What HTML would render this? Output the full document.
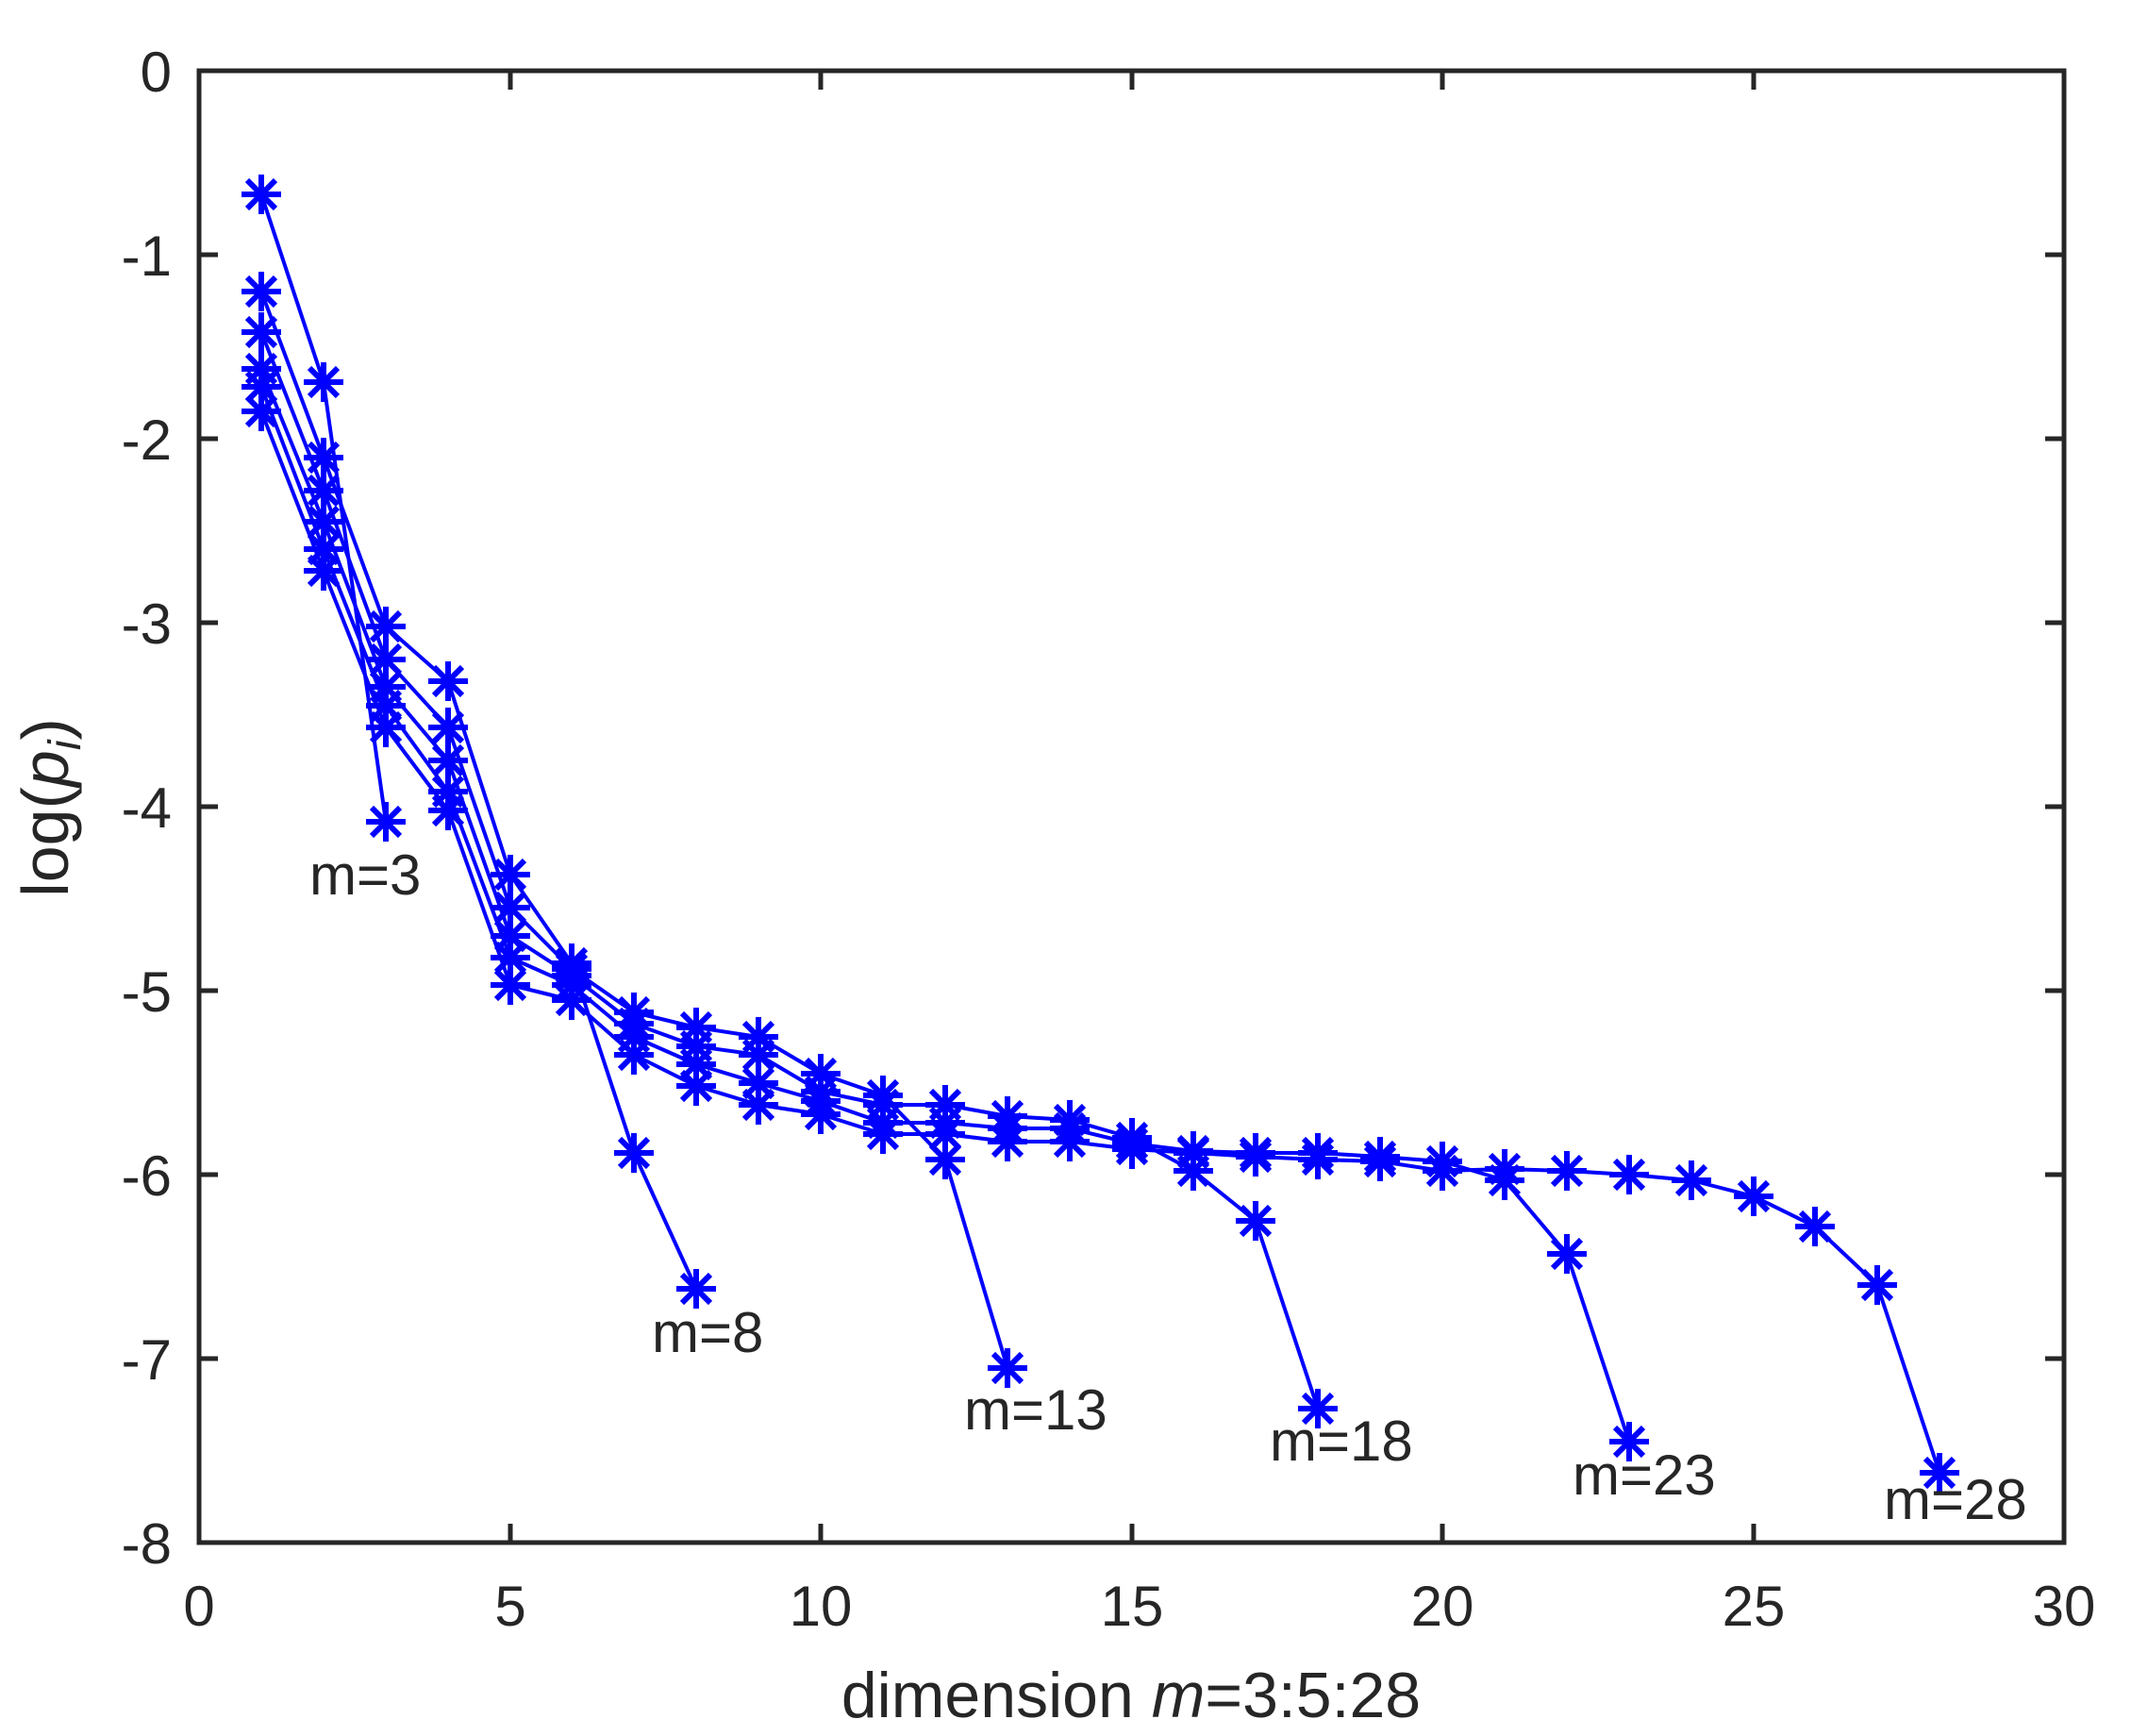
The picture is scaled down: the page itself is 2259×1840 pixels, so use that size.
<!DOCTYPE html>
<html><head><meta charset="utf-8"><style>html,body{margin:0;padding:0;background:#fff}svg{display:block}text{font-family:"Liberation Sans",Arial,sans-serif;fill:#262626}</style></head><body>
<svg width="2259" height="1840" viewBox="0 0 2259 1840" xmlns="http://www.w3.org/2000/svg">
<defs><g id="a" stroke="#0000ff" stroke-width="6" fill="none"><path d="M-21 0H21M0 -21V21M-15 -15L15 15M-15 15L15 -15"/></g></defs>
<rect x="0" y="0" width="2259" height="1840" fill="#fff"/>
<g fill="none" stroke="#0000ff" stroke-width="4" stroke-linejoin="round">
<polyline points="277,206 343,405 409,871"/>
<polyline points="277,309 343,485 409,664 475,722 541,927 606,1021 672,1222 738,1366"/>
<polyline points="277,352 343,520 409,699 475,771 541,962 606,1027 672,1073 738,1089 804,1099 870,1138 936,1161 1002,1229 1068,1450"/>
<polyline points="277,391 343,553 409,728 475,806 541,992 606,1034 672,1085 738,1109 804,1118 870,1157 936,1171 1002,1171 1068,1183 1134,1187 1200,1206 1265,1241 1331,1294 1397,1493"/>
<polyline points="277,410 343,582 409,748 475,839 541,1015 606,1044 672,1099 738,1128 804,1148 870,1167 936,1190 1002,1190 1068,1196 1134,1196 1200,1212 1265,1220 1331,1222 1397,1222 1463,1226 1529,1231 1595,1251 1661,1329 1727,1528"/>
<polyline points="277,436 343,605 409,771 475,859 541,1044 606,1060 672,1118 738,1151 804,1171 870,1181 936,1202 1002,1202 1068,1210 1134,1210 1200,1218 1265,1222 1331,1226 1397,1229 1463,1231 1529,1241 1595,1239 1661,1241 1727,1245 1793,1251 1859,1268 1924,1300 1990,1362 2056,1561"/>
</g>
<g>
<use href="#a" x="277" y="206"/><use href="#a" x="343" y="405"/><use href="#a" x="409" y="871"/>
<use href="#a" x="277" y="309"/><use href="#a" x="343" y="485"/><use href="#a" x="409" y="664"/><use href="#a" x="475" y="722"/><use href="#a" x="541" y="927"/><use href="#a" x="606" y="1021"/><use href="#a" x="672" y="1222"/><use href="#a" x="738" y="1366"/>
<use href="#a" x="277" y="352"/><use href="#a" x="343" y="520"/><use href="#a" x="409" y="699"/><use href="#a" x="475" y="771"/><use href="#a" x="541" y="962"/><use href="#a" x="606" y="1027"/><use href="#a" x="672" y="1073"/><use href="#a" x="738" y="1089"/><use href="#a" x="804" y="1099"/><use href="#a" x="870" y="1138"/><use href="#a" x="936" y="1161"/><use href="#a" x="1002" y="1229"/><use href="#a" x="1068" y="1450"/>
<use href="#a" x="277" y="391"/><use href="#a" x="343" y="553"/><use href="#a" x="409" y="728"/><use href="#a" x="475" y="806"/><use href="#a" x="541" y="992"/><use href="#a" x="606" y="1034"/><use href="#a" x="672" y="1085"/><use href="#a" x="738" y="1109"/><use href="#a" x="804" y="1118"/><use href="#a" x="870" y="1157"/><use href="#a" x="936" y="1171"/><use href="#a" x="1002" y="1171"/><use href="#a" x="1068" y="1183"/><use href="#a" x="1134" y="1187"/><use href="#a" x="1200" y="1206"/><use href="#a" x="1265" y="1241"/><use href="#a" x="1331" y="1294"/><use href="#a" x="1397" y="1493"/>
<use href="#a" x="277" y="410"/><use href="#a" x="343" y="582"/><use href="#a" x="409" y="748"/><use href="#a" x="475" y="839"/><use href="#a" x="541" y="1015"/><use href="#a" x="606" y="1044"/><use href="#a" x="672" y="1099"/><use href="#a" x="738" y="1128"/><use href="#a" x="804" y="1148"/><use href="#a" x="870" y="1167"/><use href="#a" x="936" y="1190"/><use href="#a" x="1002" y="1190"/><use href="#a" x="1068" y="1196"/><use href="#a" x="1134" y="1196"/><use href="#a" x="1200" y="1212"/><use href="#a" x="1265" y="1220"/><use href="#a" x="1331" y="1222"/><use href="#a" x="1397" y="1222"/><use href="#a" x="1463" y="1226"/><use href="#a" x="1529" y="1231"/><use href="#a" x="1595" y="1251"/><use href="#a" x="1661" y="1329"/><use href="#a" x="1727" y="1528"/>
<use href="#a" x="277" y="436"/><use href="#a" x="343" y="605"/><use href="#a" x="409" y="771"/><use href="#a" x="475" y="859"/><use href="#a" x="541" y="1044"/><use href="#a" x="606" y="1060"/><use href="#a" x="672" y="1118"/><use href="#a" x="738" y="1151"/><use href="#a" x="804" y="1171"/><use href="#a" x="870" y="1181"/><use href="#a" x="936" y="1202"/><use href="#a" x="1002" y="1202"/><use href="#a" x="1068" y="1210"/><use href="#a" x="1134" y="1210"/><use href="#a" x="1200" y="1218"/><use href="#a" x="1265" y="1222"/><use href="#a" x="1331" y="1226"/><use href="#a" x="1397" y="1229"/><use href="#a" x="1463" y="1231"/><use href="#a" x="1529" y="1241"/><use href="#a" x="1595" y="1239"/><use href="#a" x="1661" y="1241"/><use href="#a" x="1727" y="1245"/><use href="#a" x="1793" y="1251"/><use href="#a" x="1859" y="1268"/><use href="#a" x="1924" y="1300"/><use href="#a" x="1990" y="1362"/><use href="#a" x="2056" y="1561"/>
</g>
<g stroke="#262626" stroke-width="5" fill="none">
<rect x="211" y="75" width="1977" height="1560"/>
<path d="M541 1635v-20M870 1635v-20M1200 1635v-20M1529 1635v-20M1859 1635v-20M541 75v20M870 75v20M1200 75v20M1529 75v20M1859 75v20"/>
<path d="M211 270h20M211 465h20M211 660h20M211 855h20M211 1050h20M211 1245h20M211 1440h20M2188 270h-20M2188 465h-20M2188 660h-20M2188 855h-20M2188 1050h-20M2188 1245h-20M2188 1440h-20"/>
</g>
<g font-size="60" text-anchor="end">
<text x="182" y="97">0</text><text x="182" y="292">-1</text><text x="182" y="487">-2</text><text x="182" y="682">-3</text><text x="182" y="877">-4</text><text x="182" y="1072">-5</text><text x="182" y="1267">-6</text><text x="182" y="1462">-7</text><text x="182" y="1657">-8</text>
</g>
<g font-size="60" text-anchor="middle">
<text x="211" y="1723">0</text><text x="541" y="1723">5</text><text x="870" y="1723">10</text><text x="1200" y="1723">15</text><text x="1529" y="1723">20</text><text x="1859" y="1723">25</text><text x="2188" y="1723">30</text>
</g>
<text x="1199" y="1820" font-size="68" text-anchor="middle">dimension <tspan font-style="italic">m</tspan>=3:5:28</text>
<text transform="translate(72,856) rotate(-90)" font-size="70" text-anchor="middle">log(<tspan font-style="italic">p</tspan><tspan font-style="italic" font-size="48" dy="13">i</tspan><tspan dy="-13">)</tspan></text>
<g font-size="60" style="fill:#000">
<text x="328" y="948">m=3</text>
<text x="691" y="1433">m=8</text>
<text x="1022" y="1515">m=13</text>
<text x="1346" y="1548">m=18</text>
<text x="1667" y="1584">m=23</text>
<text x="1997" y="1610">m=28</text>
</g>
</svg>
</body></html>
